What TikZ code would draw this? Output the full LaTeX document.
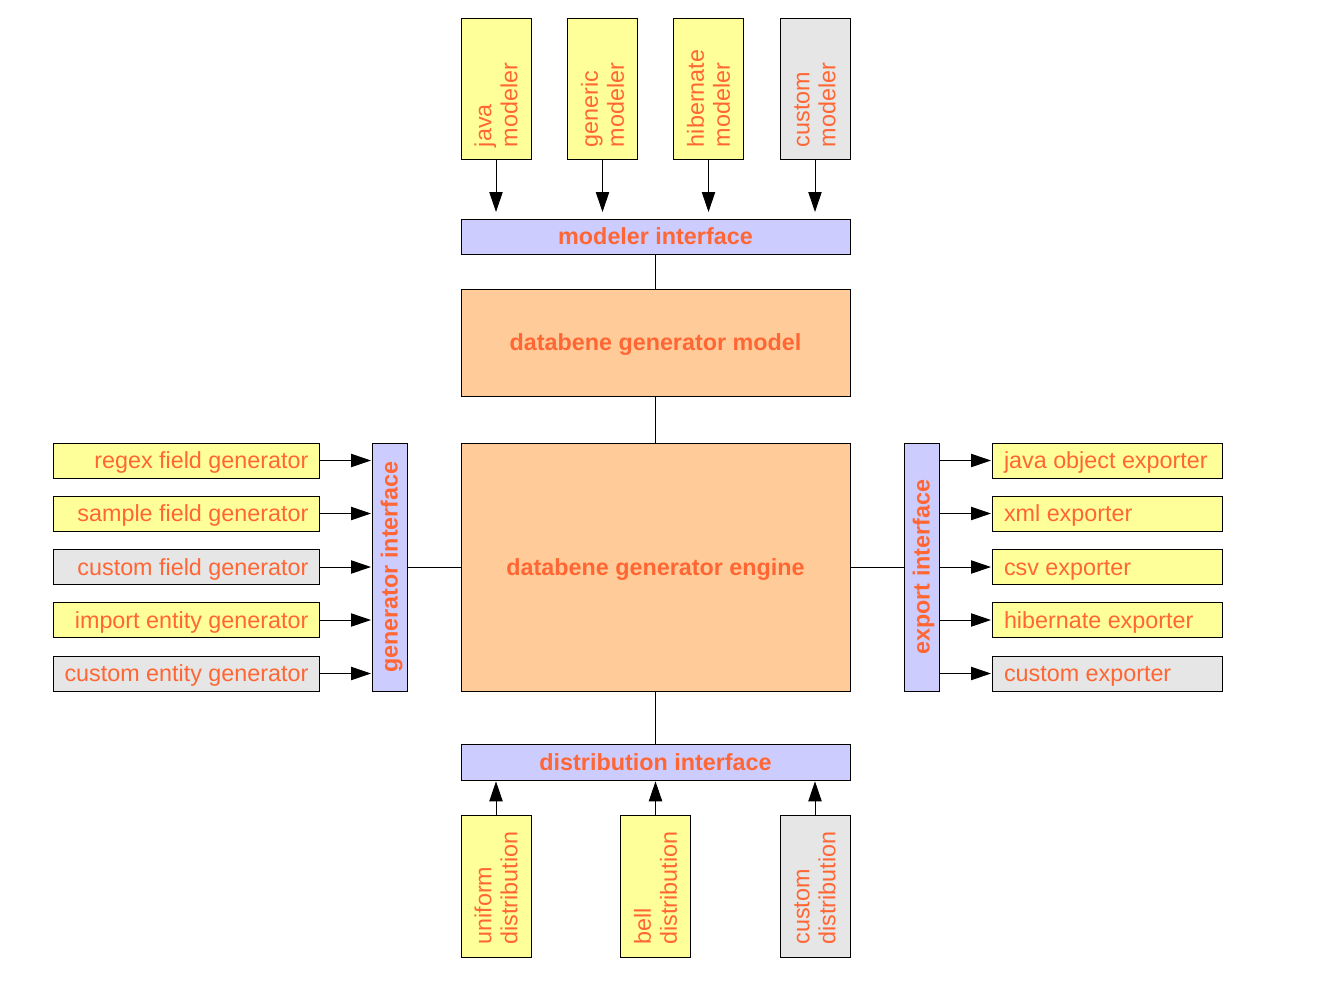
\documentclass[tikz,border=0pt]{standalone}
\usepackage{fontspec}
\setmainfont{Liberation Sans}
\usetikzlibrary{arrows.meta}
\definecolor{txt}{RGB}{255,102,51}
\definecolor{yel}{RGB}{255,255,153}
\definecolor{gry}{RGB}{230,230,230}
\definecolor{lav}{RGB}{204,204,255}
\definecolor{org}{RGB}{255,204,153}
\newcommand{\lft}[1]{\makebox[183.5pt][r]{#1}}
\newcommand{\rgt}[1]{\makebox[154.5pt][l]{#1}}
\tikzset{
  base/.style={draw=black, line width=0.75pt, inner sep=0pt, outer sep=0pt, text=txt,
    font=\fontsize{17.5}{19.5}\selectfont},
  vbox/.style={base, rotate=90, minimum width=105.75pt, minimum height=52.5pt,
    text width=87.75pt, align=left, inner xsep=9pt},
  lbox/.style={base, minimum height=26.25pt, inner xsep=8pt, text height=13.5pt, text depth=1.5pt},
  rbox/.style={base, minimum height=26.25pt, inner xsep=9pt, text height=13.5pt, text depth=1.5pt},
  ibox/.style={base, font=\fontsize{17.5}{19.5}\selectfont\bfseries, text height=13.5pt, text depth=1.5pt},
  arr/.style={line width=0.75pt, -{Triangle[length=15pt,width=10pt]}},
  conn/.style={line width=0.75pt},
}
\begin{document}
\begin{tikzpicture}[x=0.75pt,y=-0.75pt]
\useasboundingbox (0,0) rectangle (1324,993);
% top modelers
\node[vbox, fill=yel] (jm) at (496,88.5) {java\\modeler};
\node[vbox, fill=yel] (gm) at (602.5,88.5) {generic\\modeler};
\node[vbox, fill=yel] (hm) at (708.5,88.5) {hibernate\\modeler};
\node[vbox, fill=gry] (cm) at (815,88.5) {custom\\modeler};
\node[ibox, fill=lav, minimum width=291.75pt, minimum height=26.25pt] (mi) at (655.5,236.5) {modeler interface};
\node[ibox, fill=org, minimum width=291.75pt, minimum height=80.25pt] (model) at (655.5,342.5) {databene generator model};
\node[ibox, fill=org, minimum width=291.75pt, minimum height=186pt] (engine) at (655.5,567) {databene generator engine};
\node[ibox, fill=lav, minimum width=291.75pt, minimum height=27pt] (di) at (655.5,762) {distribution interface};
% distributions
\node[vbox, fill=yel, minimum width=106.5pt] (ud) at (496,886) {uniform\\distribution};
\node[vbox, fill=yel, minimum width=106.5pt] (bd) at (655.5,886) {bell\\distribution};
\node[vbox, fill=gry, minimum width=106.5pt] (cd) at (815,886) {custom\\distribution};
% interfaces
\node[ibox, fill=lav, rotate=90, minimum width=186pt, minimum height=26.25pt] (gi) at (389.5,567) {generator interface};
\node[ibox, fill=lav, rotate=90, minimum width=186pt, minimum height=26.25pt] (ei) at (921.5,567) {export interface};
% left boxes
\node[lbox, fill=yel] (rf) at (186,460.5) {\lft{regex field generator}};
\node[lbox, fill=yel] (sf) at (186,513.5) {\lft{sample field generator}};
\node[lbox, fill=gry] (cf) at (186,567) {\lft{custom field generator}};
\node[lbox, fill=yel] (ie) at (186,620) {\lft{import entity generator}};
\node[lbox, fill=gry] (ce) at (186,673.5) {\lft{custom entity generator}};
% right boxes
\node[rbox, fill=yel] (jo) at (1107,460.5) {\rgt{java object exporter}};
\node[rbox, fill=yel] (xe) at (1107,513.5) {\rgt{xml exporter}};
\node[rbox, fill=yel] (ve) at (1107,567) {\rgt{csv exporter}};
\node[rbox, fill=yel] (he) at (1107,620) {\rgt{hibernate exporter}};
\node[rbox, fill=gry] (ke) at (1107,673.5) {\rgt{custom exporter}};
% connectors
\foreach \n in {jm,gm,hm,cm}
  \draw[arr, shorten >=5.25pt] (\n.west) -- (\n.west |- mi.north);
\foreach \n in {ud,bd,cd}
  \draw[arr, shorten >=1pt] (\n.east) -- (\n.east |- di.south);
\foreach \n in {rf,sf,cf,ie,ce}
  \draw[arr, shorten >=0.75pt] (\n.east) -- (\n.east -| gi.north);
\foreach \n in {jo,xe,ve,he,ke}
  \draw[arr, shorten >=0.75pt] (\n.west -| ei.south) -- (\n.west);
\draw[conn] (mi.south) -- (model.north);
\draw[conn] (model.south) -- (engine.north);
\draw[conn] (engine.south) -- (di.north);
\draw[conn] (gi.south) -- (engine.west);
\draw[conn] (engine.east) -- (ei.north);
\end{tikzpicture}
\end{document}
